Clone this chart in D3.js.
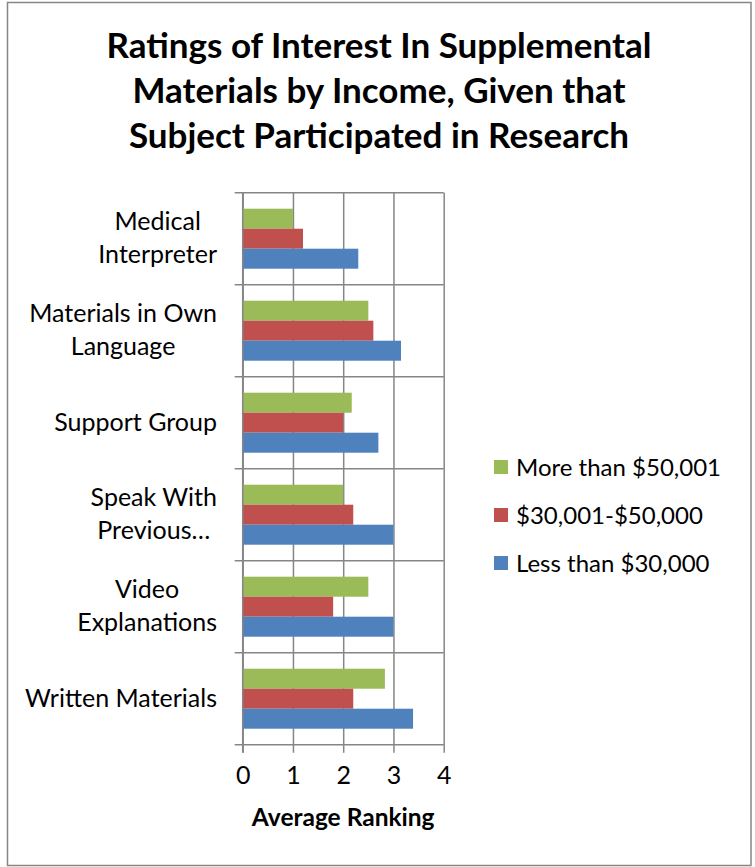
<!DOCTYPE html>
<html>
<head>
<meta charset="utf-8">
<script src="https://cdn.jsdelivr.net/npm/d3@7"></script>
<style>
  html, body { margin: 0; padding: 0; background: #ffffff; }
  svg { display: block; }
  text { font-family: Lato, "Open Sans", "Noto Sans", sans-serif; fill: #000; }
</style>
</head>
<body>
<svg id="chart" width="755" height="867"></svg>
<script>
// Chart content
const titleLines = [
  "Ratings of Interest In Supplemental",
  "Materials by Income, Given that",
  "Subject Participated in Research"
];
const categories = [
  "Medical Interpreter",
  "Materials in Own Language",
  "Support Group",
  "Speak With Previous…",
  "Video Explanations",
  "Written Materials"
];
// Wrapped forms of the category labels as they appear on the axis
const categoryLines = [
  ["Medical", "Interpreter"],
  ["Materials in Own", "Language"],
  ["Support Group"],
  ["Speak With", "Previous…"],
  ["Video", "Explanations"],
  ["Written Materials"]
];
const seriesNames = ["More than $50,001", "$30,001-$50,000", "Less than $30,000"];
const seriesColors = ["#9BBB59", "#C0504D", "#4F81BD"];
const moreThan50k   = [1.0, 2.5, 2.17, 2.0, 2.5, 2.83];
const from30kTo50k  = [1.2, 2.6, 2.0, 2.2, 1.8, 2.2];
const lessThan30k   = [2.3, 3.15, 2.7, 3.0, 3.0, 3.39];
const xTicks = [0, 1, 2, 3, 4];
const xAxisTitle = "Average Ranking";

const seriesValues = [moreThan50k, from30kTo50k, lessThan30k];
const rows = categories.map((c, i) => ({
  category: c,
  lines: categoryLines[i],
  values: seriesNames.map((s, j) => ({ series: s, color: seriesColors[j], value: seriesValues[j][i] }))
}));

const svg = d3.select("#chart");
const gridColor = "#868686";

// Outer frame
svg.append("rect")
  .attr("x", 7.5).attr("y", 2.5).attr("width", 743.5).attr("height", 863)
  .attr("fill", "#fff").attr("stroke", gridColor).attr("stroke-width", 1.5);

// Title
svg.append("g").selectAll("text").data(titleLines).join("text")
  .attr("x", 379).attr("y", (d, i) => 58 + i * 45)
  .attr("text-anchor", "middle")
  .attr("font-size", 35).attr("font-weight", "bold")
  .text(d => d);

// Scales
const x = d3.scaleLinear().domain([0, 4]).range([242.7, 443.7]);
const y = d3.scaleBand().domain(categories).range([192.7, 744.7]);
const ySub = d3.scaleBand().domain(seriesNames).range([0, y.bandwidth()]).paddingOuter(0.8);

const plotTop = y.range()[0], plotBottom = y.range()[1];
const plotLeft = x.range()[0], plotRight = x.range()[1];
const tickLen = 8;

// Vertical gridlines with tick marks below the plot
const xAxis = d3.axisBottom(x).tickValues(xTicks).tickSize(plotBottom - plotTop + tickLen).tickFormat(d3.format("d")).tickPadding(14);
const gx = svg.append("g").attr("transform", `translate(0,${plotTop})`).call(xAxis);
gx.select(".domain").remove();
gx.selectAll(".tick line").attr("stroke", gridColor).attr("stroke-width", 1.5);
gx.selectAll(".tick text").attr("font-size", 25).attr("fill", "#000")
  .attr("font-family", "Lato, sans-serif");

// Horizontal category boundaries with tick marks on the left
const boundaries = categories.map(c => y(c)).concat([plotBottom]);
svg.append("g").selectAll("line").data(boundaries).join("line")
  .attr("x1", plotLeft - tickLen).attr("x2", plotRight)
  .attr("y1", d => d).attr("y2", d => d)
  .attr("stroke", gridColor).attr("stroke-width", 1.5);

// Bars
const groups = svg.append("g").selectAll("g").data(rows).join("g")
  .attr("transform", d => `translate(0,${y(d.category)})`);
groups.selectAll("rect").data(d => d.values).join("rect")
  .attr("x", x(0))
  .attr("y", d => ySub(d.series))
  .attr("width", d => x(d.value) - x(0))
  .attr("height", ySub.bandwidth())
  .attr("fill", d => d.color);

// Redraw the value axis line over the bars
svg.append("line")
  .attr("x1", plotLeft).attr("x2", plotLeft)
  .attr("y1", plotTop).attr("y2", plotBottom + tickLen)
  .attr("stroke", gridColor).attr("stroke-width", 1.5);

// Category labels: block right-aligned, lines centred within the block
const labelSize = 25, lineGap = 33.4, labelRight = 217;
const labels = svg.append("g").attr("font-size", labelSize);
rows.forEach(r => {
  const g = labels.append("g");
  const texts = g.selectAll("text").data(r.lines).join("text")
    .attr("text-anchor", "middle")
    .attr("y", (d, i) => y(r.category) + y.bandwidth() / 2 + 8 + (i - (r.lines.length - 1) / 2) * lineGap)
    .text(d => d);
  const maxW = d3.max(texts.nodes(), n => n.getComputedTextLength());
  texts.attr("x", labelRight - maxW / 2);
});

// Axis title
svg.append("text")
  .attr("x", (plotLeft + plotRight) / 2).attr("y", 826)
  .attr("text-anchor", "middle")
  .attr("font-size", 24.5).attr("font-weight", "bold")
  .text(xAxisTitle);

// Legend
const legend = svg.append("g").selectAll("g").data(seriesNames).join("g")
  .attr("transform", (d, i) => `translate(494,${467 + i * 48})`);
legend.append("rect")
  .attr("x", 0).attr("y", -7).attr("width", 14).attr("height", 14)
  .attr("fill", (d, i) => seriesColors[i]);
legend.append("text")
  .attr("x", 22).attr("y", 8.5)
  .attr("font-size", 24)
  .text(d => d);
</script>
</body>
</html>
